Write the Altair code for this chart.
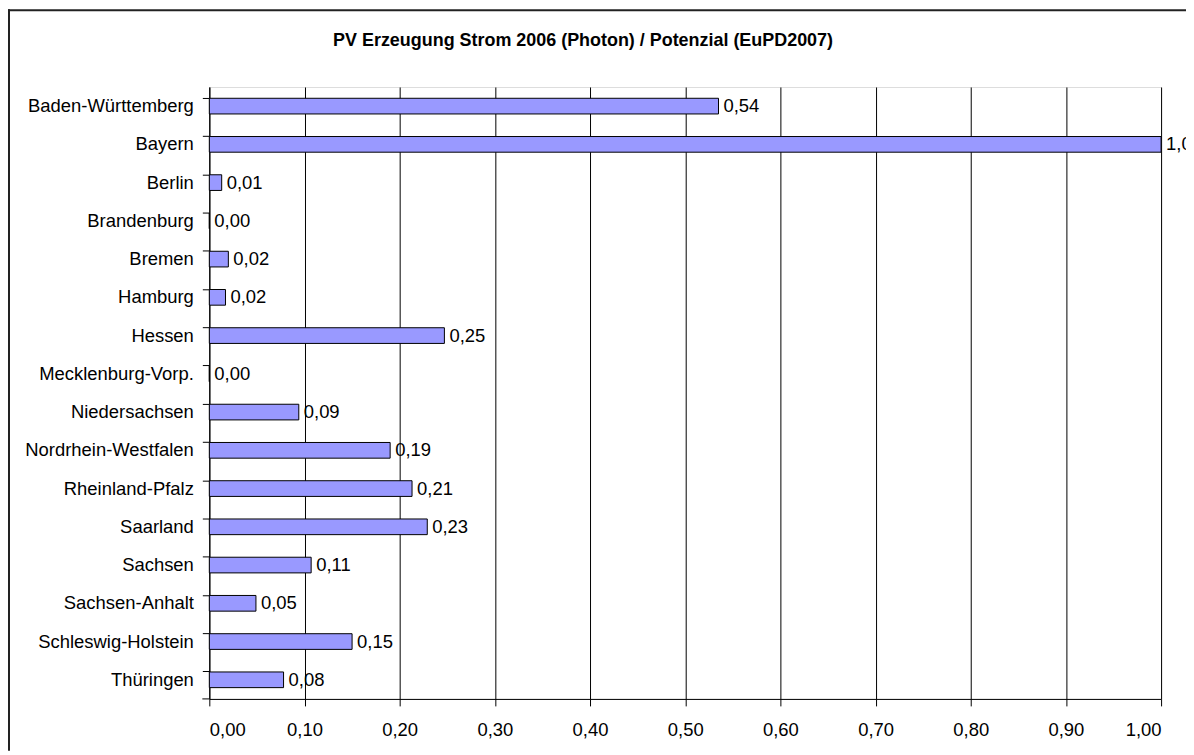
import altair as alt
import pandas as pd

states = ["Baden-Württemberg", "Bayern", "Berlin", "Brandenburg", "Bremen", "Hamburg",
          "Hessen", "Mecklenburg-Vorp.", "Niedersachsen", "Nordrhein-Westfalen",
          "Rheinland-Pfalz", "Saarland", "Sachsen", "Sachsen-Anhalt",
          "Schleswig-Holstein", "Thüringen"]
values = [0.535, 1.0, 0.013, 0.0, 0.020, 0.017, 0.247, 0.0, 0.094, 0.190,
          0.213, 0.229, 0.107, 0.049, 0.150, 0.078]
x_ticks = [0.0, 0.1, 0.2, 0.3, 0.4, 0.5, 0.6, 0.7, 0.8, 0.9, 1.0]
title_text = "PV Erzeugung Strom 2006 (Photon) / Potenzial (EuPD2007)"

df = pd.DataFrame({"state": states, "value": values})

W, H = 955, 614
PAD = {"left": 202, "top": 78, "right": 25, "bottom": 52}
FONT = "Liberation Sans"
FS = 18.5

yenc = alt.Y("state:N", sort=states, title=None,
             scale=alt.Scale(paddingInner=0.59, paddingOuter=0.295),
             axis=alt.Axis(bandPosition=0, tickSize=7, tickColor="black",
                           domainColor="black", labelPadding=9,
                           labelFont=FONT, labelFontSize=FS, labelColor="black",
                           grid=False))
xenc = alt.X("value:Q", title=None,
             scale=alt.Scale(domain=[0, 1], nice=False),
             axis=alt.Axis(values=x_ticks, tickSize=7, tickColor="black",
                           domainColor="black", gridColor="black", gridOpacity=1,
                           labelPadding=15, labelFont=FONT, labelFontSize=FS,
                           labelColor="black",
                           labelExpr="replace(format(datum.value, '.2f'), '.', ',')"))

base = alt.Chart(df)

bars = base.mark_bar(color="#9999FF", stroke="black", strokeWidth=1).encode(
    x=xenc, y=yenc)

labels = base.transform_calculate(
    lab="replace(format(datum.value, '.2f'), '.', ',')"
).mark_text(align="left", baseline="middle", dx=5, font=FONT, fontSize=FS,
            color="black").encode(
    x=alt.X("value:Q"), y=alt.Y("state:N", sort=states), text="lab:N")

one = pd.DataFrame({"t": [title_text]})
# outer frame: only the top and left edges fall inside the picture
frame_top = alt.Chart(one).mark_rule(color="#222222", strokeWidth=2).encode(
    x=alt.value(-PAD["left"]), x2=alt.value(W + PAD["right"]), y=alt.value(-77))
frame_left = alt.Chart(one).mark_rule(color="#222222", strokeWidth=2).encode(
    x=alt.value(-201), y=alt.value(-78), y2=alt.value(H + PAD["bottom"]))
bottom_tick = alt.Chart(one).mark_rule(color="black").encode(
    x=alt.value(-7), x2=alt.value(0), y=alt.value(H))
title = alt.Chart(one).mark_text(font=FONT, fontSize=18, fontWeight="bold",
                                 color="black", align="center",
                                 baseline="alphabetic").encode(
    x=alt.value(375), y=alt.value(-41), text="t:N")

chart = alt.layer(frame_top, frame_left, bars, labels, bottom_tick, title).properties(
    width=W, height=H,
    padding=PAD,
    autosize=alt.AutoSizeParams(type="none"),
).configure_view(stroke="#808080").configure(background="white")

chart.save("out.html", embed_options={"renderer": "svg", "actions": False})
